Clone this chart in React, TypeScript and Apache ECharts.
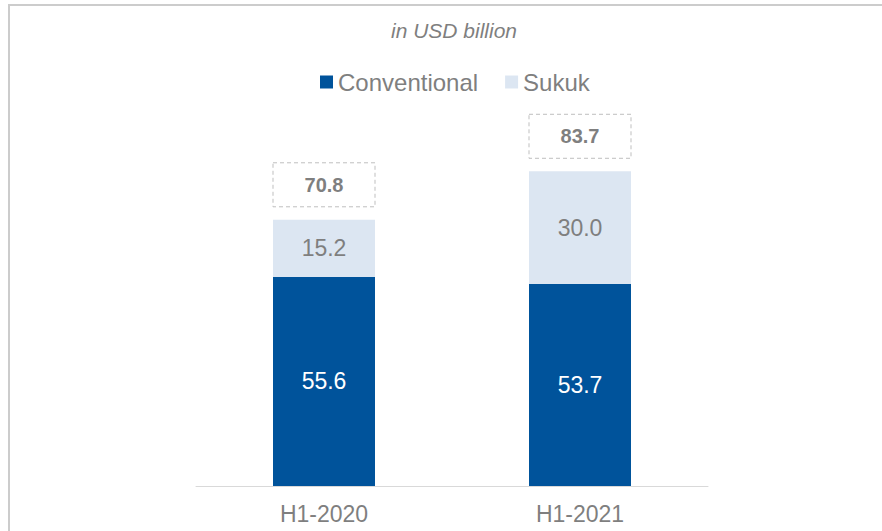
import React, { useEffect, useRef } from "react";
import * as echarts from "echarts";

const categories = ["H1-2020", "H1-2021"];
const conventional = [55.6, 53.7];
const sukuk = [15.2, 30.0];
const totals = [70.8, 83.7];

const FONT = "'Liberation Sans', Arial, sans-serif";
const GRAY = "#7f7f7f";

export default function App() {
  const ref = useRef<HTMLDivElement>(null);
  useEffect(() => {
    if (!ref.current) return;
    const chart = echarts.init(ref.current, null, { renderer: "svg" });
    chart.setOption({
      animation: false,
      backgroundColor: "#ffffff",
      textStyle: { fontFamily: FONT },
      title: {
        text: "in USD billion",
        left: 454,
        textAlign: "center",
        top: 20,
        padding: 0,
        textStyle: { fontStyle: "italic", fontWeight: "normal", fontSize: 21, color: GRAY, fontFamily: FONT },
      },
      legend: {
        data: ["Conventional", "Sukuk"],
        left: 320,
        top: 70,
        padding: 0,
        icon: "rect",
        itemWidth: 13,
        itemHeight: 13,
        itemGap: 27,
        textStyle: { fontSize: 24, color: GRAY, fontFamily: FONT },
      },
      graphic: [
        {
          type: "rect",
          shape: { x: 9, y: 5, width: 900, height: 600 },
          style: { fill: "none", stroke: "#cccccc", lineWidth: 2 },
          silent: true,
        },
      ],
      grid: { left: 196, right: 174, top: 110, bottom: 45 },
      xAxis: {
        type: "category",
        data: categories,
        axisLine: { lineStyle: { color: "#d9d9d9", width: 1 } },
        axisTick: { show: false },
        axisLabel: { fontSize: 23, color: GRAY, margin: 16, fontFamily: FONT },
      },
      yAxis: {
        type: "value",
        min: 0,
        max: 100,
        show: false,
        splitLine: { show: false },
      },
      series: [
        {
          name: "Conventional",
          type: "bar",
          stack: "s",
          data: conventional,
          barWidth: 102,
          barGap: "-100%",
          itemStyle: { color: "#00539b" },
          label: {
            show: true,
            position: "inside",
            color: "#ffffff",
            fontSize: 23,
            fontFamily: FONT,
            formatter: (p: any) => Number(p.value).toFixed(1),
          },
        },
        {
          name: "Sukuk",
          type: "bar",
          stack: "s",
          data: sukuk,
          barWidth: 102,
          barGap: "-100%",
          itemStyle: { color: "#dce6f2" },
          label: {
            show: true,
            position: "inside",
            color: GRAY,
            fontSize: 23,
            fontFamily: FONT,
            formatter: (p: any) => Number(p.value).toFixed(1),
          },
        },
        {
          name: "Total",
          type: "bar",
          data: totals,
          barWidth: 102,
          barGap: "-100%",
          silent: true,
          z: 1,
          itemStyle: { color: "rgba(0,0,0,0)" },
          label: {
            show: true,
            position: "top",
            distance: 13,
            formatter: (p: any) => Number(p.value).toFixed(1),
            fontWeight: "bold",
            fontSize: 20,
            lineHeight: 20,
            color: GRAY,
            fontFamily: FONT,
            borderColor: "#bfbfbf",
            borderWidth: 1,
            borderType: [4, 3],
            width: 102,
            padding: [12, 0, 12, 0],
            align: "center",
          },
        },
      ],
    });
    return () => chart.dispose();
  }, []);
  return (
    <div
      ref={ref}
      style={{ position: "fixed", left: 0, top: 0, width: 882, height: 531 }}
    />
  );
}
